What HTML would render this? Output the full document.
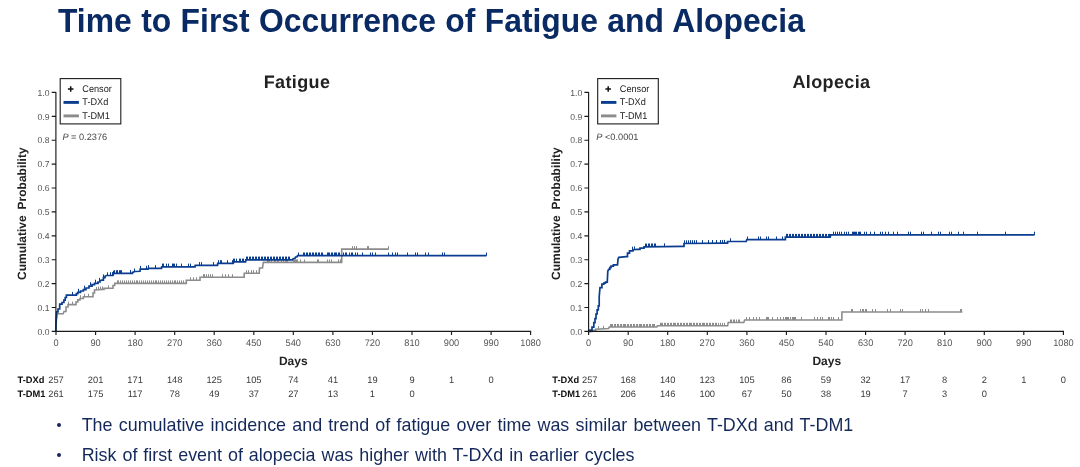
<!DOCTYPE html>
<html lang="en"><head><meta charset="utf-8"><title>Time to First Occurrence of Fatigue and Alopecia</title>
<style>
html,body{margin:0;padding:0;background:#fff;}
body{width:1080px;height:467px;overflow:hidden;position:relative;font-family:"Liberation Sans", Arial, sans-serif;}
svg{position:absolute;left:0;top:0;}
text{font-family:"Liberation Sans", Arial, sans-serif;text-rendering:geometricPrecision;}
.tk{font-size:8.6px;fill:#555;}
.tx{font-size:9.5px;fill:#555;}
.axl{font-size:12px;font-weight:bold;fill:#222;word-spacing:2.5px;}
.ct{font-size:18px;font-weight:bold;fill:#222;letter-spacing:0.37px;}
.lg{font-size:9.7px;fill:#222;}
.pv{font-size:9.2px;fill:#444;}
.rl{font-size:9.3px;font-weight:bold;fill:#111;}
.rv{font-size:9.3px;fill:#3a3a3a;}
h1{position:absolute;left:58px;top:0.8px;margin:0;font-size:33.1px;line-height:40px;font-weight:bold;word-spacing:0.62px;transform:scaleX(0.962);transform-origin:0 0;color:#0a2a63;white-space:nowrap;letter-spacing:0;}
ul{position:absolute;left:0;top:0;margin:0;padding:0;list-style:none;}
li{position:absolute;left:81.7px;white-space:nowrap;font-size:17.9px;line-height:24px;word-spacing:1.25px;color:#14295a;}
li:before{content:"";position:absolute;left:-25.2px;top:10.1px;width:4.2px;height:4.2px;border-radius:50%;background:#14295a;}
</style></head><body>
<h1>Time to First Occurrence of Fatigue and Alopecia</h1>
<svg width="1080" height="467" viewBox="0 0 1080 467">
<path d="M55.8 331.4 L56.4 320 L57.3 313.8 L63.2 313.8 L64 311.5 L66 311.5 L66 307 L68 307 L68 304.6 L74.3 304.6 L76 304.6 L76 302 L77.8 302 L77.8 299.9 L80 299.9 L80 298.5 L83.4 298.5 L83.4 296.8 L91.7 296.8 L93 296.8 L93 293 L94.5 293 L94.5 290 L102.8 289.4 L104 289.4 L104 288.4 L111.2 288.2 L113 288.2 L113 285.5 L114.7 285.5 L114.7 283.4 L186.3 283.4 L186.3 280.2 L200 280.2 L200 277.2 L244.2 277.2 L244.2 273.2 L259.2 273.2 L259.5 268 L262.5 268 L263.3 262.4 L341.7 262.4 L341.7 249.1 L388.9 249.1" fill="none" stroke="#8c8c8c" stroke-width="1.6" stroke-linejoin="miter"/>
<path d="M68.5 304.6v-3M72.5 304.6v-3M80.5 298.2v-3M84.5 296.8v-3M88.5 296.8v-3M96.5 289.9v-3M98.5 289.7v-3M100.5 289.6v-3M102.5 289.4v-3M108.5 288.3v-3M117.5 283.4v-3M118.5 283.4v-3M120.5 283.4v-3M122.5 283.4v-3M124.5 283.4v-3M126.5 283.4v-3M128.5 283.4v-3M130.5 283.4v-3M132.5 283.4v-3M134.5 283.4v-3M136.5 283.4v-3M137.5 283.4v-3M139.5 283.4v-3M141.5 283.4v-3M143.5 283.4v-3M145.5 283.4v-3M147.5 283.4v-3M149.5 283.4v-3M151.5 283.4v-3M153.5 283.4v-3M155.5 283.4v-3M156.5 283.4v-3M158.5 283.4v-3M160.5 283.4v-3M162.5 283.4v-3M164.5 283.4v-3M166.5 283.4v-3M168.5 283.4v-3M170.5 283.4v-3M172.5 283.4v-3M174.5 283.4v-3M175.5 283.4v-3M177.5 283.4v-3M179.5 283.4v-3M181.5 283.4v-3M183.5 283.4v-3M190.5 280.2v-3M193.5 280.2v-3M196.5 280.2v-3M203.5 277.2v-3M204.5 277.2v-3M206.5 277.2v-3M208.5 277.2v-3M210.5 277.2v-3M212.5 277.2v-3M222.5 277.2v-3M225.5 277.2v-3M228.5 277.2v-3M232.5 277.2v-3M246.5 273.2v-3M248.5 273.2v-3M251.5 273.2v-3M253.5 273.2v-3M256.5 273.2v-3M267.5 262.4v-3M268.5 262.4v-3M269.5 262.4v-3M271.5 262.4v-3M274.5 262.4v-3M275.5 262.4v-3M277.5 262.4v-3M278.5 262.4v-3M281.5 262.4v-3M283.5 262.4v-3M285.5 262.4v-3M286.5 262.4v-3M287.5 262.4v-3M293.5 262.4v-3M294.5 262.4v-3M295.5 262.4v-3M296.5 262.4v-3M297.5 262.4v-3M300.5 262.4v-3M304.5 262.4v-3M317.5 262.4v-3M318.5 262.4v-3M327.5 262.4v-3M329.5 262.4v-3M331.5 262.4v-3M338.5 262.4v-3M340.5 262.4v-3M352.5 249.1v-3M354.5 249.1v-3M356.5 249.1v-3M367.5 249.1v-3M368.5 249.1v-3M388.5 249.1v-3" fill="none" stroke="#8c8c8c" stroke-width="1" />
<path d="M55.8 331.4 L56.2 319 L56.7 311.8 L58 311.8 L58 309 L59.7 309 L59.7 304.2 L62 304.2 L62 302.5 L63.9 302.5 L63.9 300.2 L65.2 300.2 L65.2 297.5 L66.4 297.5 L66.4 295.2 L70 295.2 L75 295.1 L76.4 295.1 L76.4 293.6 L77.8 293.6 L77.8 292.4 L80.5 292.4 L80.5 291 L83.4 291 L83.4 289.6 L86 289.6 L86 288 L89 288 L89 286.2 L92 286.2 L92 284.7 L94.5 284.7 L94.5 283.3 L98 283.3 L98 282 L100 282 L100 280.8 L101.5 280.2 L103.4 280.2 L103.4 277.7 L105 277.7 L105 276.3 L106.5 275.5 L113 275.3 L113.7 273.4 L130 273.4 L132.5 273.4 L132.5 272.4 L135 271.5 L140 271.3 L140.2 269.1 L148 269.1 L148.2 268.3 L161.5 268.3 L161.7 266.8 L195 266.8 L195.2 265.3 L217.5 265.3 L217.7 263.4 L233.3 263.4 L233.5 261.8 L245.6 261.8 L245.8 259.8 L292.5 259.8 L293.3 258.5 L295 258.5 L295.5 257 L297 257 L297.5 255.7 L486.5 255.7" fill="none" stroke="#0a3d8f" stroke-width="1.7" stroke-linejoin="miter"/>
<path d="M72.5 295.1v-3.2M78.5 292v-3.2M84.5 288.9v-3.2M90.5 285.4v-3.2M95.5 282.9v-3.2M99.5 281.1v-3.2M103.5 277.6v-3.2M107.5 275.5v-3.2M110.5 275.4v-3.2M112.5 275.3v-3.2M113.5 273.9v-3.2M114.5 273.4v-3.2M116.5 273.4v-3.2M117.5 273.4v-3.2M119.5 273.4v-3.2M120.5 273.4v-3.2M121.5 273.4v-3.2M130.5 273.2v-3.2M134.5 271.7v-3.2M140.5 269.1v-3.2M146.5 269.1v-3.2M148.5 268.3v-3.2M155.5 268.3v-3.2M162.5 266.8v-3.2M163.5 266.8v-3.2M166.5 266.8v-3.2M168.5 266.8v-3.2M172.5 266.8v-3.2M173.5 266.8v-3.2M174.5 266.8v-3.2M176.5 266.8v-3.2M181.5 266.8v-3.2M188.5 266.8v-3.2M190.5 266.8v-3.2M199.5 265.3v-3.2M201.5 265.3v-3.2M213.5 265.3v-3.2M218.5 263.4v-3.2M220.5 263.4v-3.2M221.5 263.4v-3.2M227.5 263.4v-3.2M232.5 263.4v-3.2M233.5 261.8v-3.2M234.5 261.8v-3.2M236.5 261.8v-3.2M239.5 261.8v-3.2M240.5 261.8v-3.2M242.5 261.8v-3.2M243.5 261.8v-3.2M246.5 259.8v-3.2M247.5 259.8v-3.2M249.5 259.8v-3.2M250.5 259.8v-3.2M252.5 259.8v-3.2M253.5 259.8v-3.2M255.5 259.8v-3.2M256.5 259.8v-3.2M258.5 259.8v-3.2M259.5 259.8v-3.2M261.5 259.8v-3.2M262.5 259.8v-3.2M264.5 259.8v-3.2M265.5 259.8v-3.2M267.5 259.8v-3.2M268.5 259.8v-3.2M270.5 259.8v-3.2M271.5 259.8v-3.2M273.5 259.8v-3.2M274.5 259.8v-3.2M276.5 259.8v-3.2M277.5 259.8v-3.2M279.5 259.8v-3.2M280.5 259.8v-3.2M282.5 259.8v-3.2M283.5 259.8v-3.2M285.5 259.8v-3.2M286.5 259.8v-3.2M288.5 259.8v-3.2M289.5 259.8v-3.2M298.5 255.7v-3.2M303.5 255.7v-3.2M304.5 255.7v-3.2M306.5 255.7v-3.2M307.5 255.7v-3.2M309.5 255.7v-3.2M310.5 255.7v-3.2M312.5 255.7v-3.2M313.5 255.7v-3.2M315.5 255.7v-3.2M316.5 255.7v-3.2M318.5 255.7v-3.2M319.5 255.7v-3.2M321.5 255.7v-3.2M322.5 255.7v-3.2M327.5 255.7v-3.2M328.5 255.7v-3.2M329.5 255.7v-3.2M331.5 255.7v-3.2M332.5 255.7v-3.2M334.5 255.7v-3.2M335.5 255.7v-3.2M336.5 255.7v-3.2M338.5 255.7v-3.2M339.5 255.7v-3.2M343.5 255.7v-3.2M345.5 255.7v-3.2M346.5 255.7v-3.2M349.5 255.7v-3.2M351.5 255.7v-3.2M352.5 255.7v-3.2M355.5 255.7v-3.2M357.5 255.7v-3.2M362.5 255.7v-3.2M370.5 255.7v-3.2M372.5 255.7v-3.2M375.5 255.7v-3.2M388.5 255.7v-3.2M392.5 255.7v-3.2M395.5 255.7v-3.2M397.5 255.7v-3.2M407.5 255.7v-3.2M415.5 255.7v-3.2M417.5 255.7v-3.2M425.5 255.7v-3.2M428.5 255.7v-3.2M442.5 255.7v-3.2M444.5 255.7v-3.2M486.5 255.7v-3.2" fill="none" stroke="#0a3d8f" stroke-width="1" />
<path d="M55.9 91.9V332.1M55.2 331.4H531.2M55.9 331.4h-4.2M55.9 307.5h-4.2M55.9 283.6h-4.2M55.9 259.7h-4.2M55.9 235.8h-4.2M55.9 211.9h-4.2M55.9 188h-4.2M55.9 164.1h-4.2M55.9 140.2h-4.2M55.9 116.3h-4.2M55.9 92.4h-4.2M56 331.4v3.6M95.6 331.4v3.6M135.1 331.4v3.6M174.7 331.4v3.6M214.2 331.4v3.6M253.8 331.4v3.6M293.3 331.4v3.6M332.9 331.4v3.6M372.4 331.4v3.6M412 331.4v3.6M451.5 331.4v3.6M491.1 331.4v3.6M530.6 331.4v3.6" fill="none" stroke="#1a1a1a" stroke-width="1.15"/>
<text x="49.5" y="334.6" text-anchor="end" class="tk">0.0</text>
<text x="49.5" y="310.7" text-anchor="end" class="tk">0.1</text>
<text x="49.5" y="286.8" text-anchor="end" class="tk">0.2</text>
<text x="49.5" y="262.9" text-anchor="end" class="tk">0.3</text>
<text x="49.5" y="239" text-anchor="end" class="tk">0.4</text>
<text x="49.5" y="215.1" text-anchor="end" class="tk">0.5</text>
<text x="49.5" y="191.2" text-anchor="end" class="tk">0.6</text>
<text x="49.5" y="167.3" text-anchor="end" class="tk">0.7</text>
<text x="49.5" y="143.4" text-anchor="end" class="tk">0.8</text>
<text x="49.5" y="119.5" text-anchor="end" class="tk">0.9</text>
<text x="49.5" y="95.6" text-anchor="end" class="tk">1.0</text>
<text transform="translate(56 345.7) scale(0.97 1)" text-anchor="middle" class="tx">0</text>
<text transform="translate(95.6 345.7) scale(0.97 1)" text-anchor="middle" class="tx">90</text>
<text transform="translate(135.1 345.7) scale(0.97 1)" text-anchor="middle" class="tx">180</text>
<text transform="translate(174.7 345.7) scale(0.97 1)" text-anchor="middle" class="tx">270</text>
<text transform="translate(214.2 345.7) scale(0.97 1)" text-anchor="middle" class="tx">360</text>
<text transform="translate(253.8 345.7) scale(0.97 1)" text-anchor="middle" class="tx">450</text>
<text transform="translate(293.3 345.7) scale(0.97 1)" text-anchor="middle" class="tx">540</text>
<text transform="translate(332.9 345.7) scale(0.97 1)" text-anchor="middle" class="tx">630</text>
<text transform="translate(372.4 345.7) scale(0.97 1)" text-anchor="middle" class="tx">720</text>
<text transform="translate(412 345.7) scale(0.97 1)" text-anchor="middle" class="tx">810</text>
<text transform="translate(451.5 345.7) scale(0.97 1)" text-anchor="middle" class="tx">900</text>
<text transform="translate(491.1 345.7) scale(0.97 1)" text-anchor="middle" class="tx">990</text>
<text transform="translate(530.6 345.7) scale(0.97 1)" text-anchor="middle" class="tx">1080</text>
<text x="293.3" y="364.9" text-anchor="middle" class="axl">Days</text>
<text transform="translate(26.4 213.7) rotate(-90)" text-anchor="middle" class="axl">Cumulative Probability</text>
<text x="297" y="87.5" text-anchor="middle" class="ct">Fatigue</text>
<rect x="60.2" y="78.6" width="60.6" height="45.3" fill="#fff" stroke="#1c1c1c" stroke-width="1.1"/>
<path d="M67.9 89h5.6M70.7 86.2v5.6" stroke="#111" stroke-width="1.5" fill="none"/>
<path d="M63.5 102.4h15.4" stroke="#0a3d8f" stroke-width="2.9" fill="none"/>
<path d="M63.5 115.9h15.4" stroke="#8c8c8c" stroke-width="2.9" fill="none"/>
<text transform="translate(82.3 92.3) scale(0.945 1)" class="lg">Censor</text>
<text transform="translate(82.3 105) scale(0.945 1)" class="lg">T-DXd</text>
<text transform="translate(82.3 118.8) scale(0.945 1)" class="lg">T-DM1</text>
<text x="62.4" y="139.6" class="pv"><tspan font-style="italic">P</tspan> = 0.2376</text>
<text x="17.6" y="383.4" class="rl">T-DXd</text>
<text x="56" y="383.4" text-anchor="middle" class="rv">257</text>
<text x="95.6" y="383.4" text-anchor="middle" class="rv">201</text>
<text x="135.1" y="383.4" text-anchor="middle" class="rv">171</text>
<text x="174.7" y="383.4" text-anchor="middle" class="rv">148</text>
<text x="214.2" y="383.4" text-anchor="middle" class="rv">125</text>
<text x="253.8" y="383.4" text-anchor="middle" class="rv">105</text>
<text x="293.3" y="383.4" text-anchor="middle" class="rv">74</text>
<text x="332.9" y="383.4" text-anchor="middle" class="rv">41</text>
<text x="372.4" y="383.4" text-anchor="middle" class="rv">19</text>
<text x="412" y="383.4" text-anchor="middle" class="rv">9</text>
<text x="451.5" y="383.4" text-anchor="middle" class="rv">1</text>
<text x="491.1" y="383.4" text-anchor="middle" class="rv">0</text>
<text x="17.6" y="396.7" class="rl">T-DM1</text>
<text x="56" y="396.7" text-anchor="middle" class="rv">261</text>
<text x="95.6" y="396.7" text-anchor="middle" class="rv">175</text>
<text x="135.1" y="396.7" text-anchor="middle" class="rv">117</text>
<text x="174.7" y="396.7" text-anchor="middle" class="rv">78</text>
<text x="214.2" y="396.7" text-anchor="middle" class="rv">49</text>
<text x="253.8" y="396.7" text-anchor="middle" class="rv">37</text>
<text x="293.3" y="396.7" text-anchor="middle" class="rv">27</text>
<text x="332.9" y="396.7" text-anchor="middle" class="rv">13</text>
<text x="372.4" y="396.7" text-anchor="middle" class="rv">1</text>
<text x="412" y="396.7" text-anchor="middle" class="rv">0</text>
<path d="M588.6 331.4 L592 331.4 L592 330.4 L595.7 330.4 L595.7 329.2 L608.6 328.6 L609.2 327 L656.8 327 L657.5 325.8 L727.6 325.8 L728.2 322.5 L743.8 322.5 L744.6 320 L841.9 320 L841.9 312 L962.4 312" fill="none" stroke="#8c8c8c" stroke-width="1.6" stroke-linejoin="miter"/>
<path d="M598.5 329.1v-3M603.5 328.8v-3M610.5 327v-3M611.5 327v-3M612.5 327v-3M614.5 327v-3M615.5 327v-3M617.5 327v-3M618.5 327v-3M620.5 327v-3M621.5 327v-3M623.5 327v-3M624.5 327v-3M625.5 327v-3M627.5 327v-3M628.5 327v-3M630.5 327v-3M631.5 327v-3M633.5 327v-3M634.5 327v-3M636.5 327v-3M637.5 327v-3M639.5 327v-3M640.5 327v-3M641.5 327v-3M643.5 327v-3M644.5 327v-3M646.5 327v-3M647.5 327v-3M649.5 327v-3M650.5 327v-3M652.5 327v-3M653.5 327v-3M654.5 327v-3M660.5 325.8v-3M661.5 325.8v-3M662.5 325.8v-3M664.5 325.8v-3M665.5 325.8v-3M667.5 325.8v-3M668.5 325.8v-3M670.5 325.8v-3M671.5 325.8v-3M673.5 325.8v-3M674.5 325.8v-3M675.5 325.8v-3M677.5 325.8v-3M678.5 325.8v-3M680.5 325.8v-3M681.5 325.8v-3M683.5 325.8v-3M684.5 325.8v-3M686.5 325.8v-3M687.5 325.8v-3M689.5 325.8v-3M690.5 325.8v-3M691.5 325.8v-3M693.5 325.8v-3M694.5 325.8v-3M696.5 325.8v-3M697.5 325.8v-3M699.5 325.8v-3M700.5 325.8v-3M702.5 325.8v-3M703.5 325.8v-3M704.5 325.8v-3M706.5 325.8v-3M707.5 325.8v-3M709.5 325.8v-3M710.5 325.8v-3M712.5 325.8v-3M713.5 325.8v-3M715.5 325.8v-3M716.5 325.8v-3M718.5 325.8v-3M720.5 325.8v-3M722.5 325.8v-3M724.5 325.8v-3M730.5 322.5v-3M731.5 322.5v-3M733.5 322.5v-3M734.5 322.5v-3M736.5 322.5v-3M738.5 322.5v-3M739.5 322.5v-3M746.5 320v-3M749.5 320v-3M753.5 320v-3M756.5 320v-3M759.5 320v-3M766.5 320v-3M767.5 320v-3M768.5 320v-3M772.5 320v-3M777.5 320v-3M780.5 320v-3M783.5 320v-3M785.5 320v-3M786.5 320v-3M787.5 320v-3M788.5 320v-3M790.5 320v-3M792.5 320v-3M793.5 320v-3M794.5 320v-3M795.5 320v-3M801.5 320v-3M814.5 320v-3M817.5 320v-3M820.5 320v-3M822.5 320v-3M828.5 320v-3M829.5 320v-3M831.5 320v-3M833.5 320v-3M838.5 320v-3M851.5 312v-3M852.5 312v-3M860.5 312v-3M862.5 312v-3M863.5 312v-3M865.5 312v-3M866.5 312v-3M872.5 312v-3M875.5 312v-3M887.5 312v-3M890.5 312v-3M900.5 312v-3M902.5 312v-3M920.5 312v-3M922.5 312v-3M925.5 312v-3M928.5 312v-3M960.5 312v-3M961.5 312v-3" fill="none" stroke="#8c8c8c" stroke-width="1" />
<path d="M588.6 331.4 L590 331.4 L590 330.1 L592 330.1 L592 327.1 L593.8 327.1 L593.8 322.6 L595 322.6 L595 318.6 L596 318.6 L596 314 L597.1 314 L597.1 309.9 L598.3 309.9 L598.3 305.8 L599.2 305.8 L599.2 296.6 L600 287.6 L601.9 287.6 L601.9 284.2 L603.8 284.2 L603.8 283.1 L605.5 283.1 L605.5 282.1 L607.3 282.1 L607.3 281 L607.8 271.1 L608.6 269.3 L609.8 269.3 L609.8 267.7 L611 267.7 L611 266.1 L613.4 266.1 L613.4 264.8 L617.5 264.8 L618 259.1 L618.9 257.4 L626.3 256.7 L627.5 256.7 L627.5 253.1 L629.5 253.1 L629.5 250.9 L633 250.9 L633 249.7 L637.5 249.3 L640 249.3 L640 248.1 L644 248.1 L644 246.8 L682.5 246.3 L684 246.3 L684 243.5 L726 243.1 L727.6 243.1 L727.6 241.5 L746.2 241.5 L746.8 239.7 L783.8 239.7 L785.4 239.7 L785.4 237.1 L830.2 237.1 L830.8 234.9 L1034.5 234.9" fill="none" stroke="#0a3d8f" stroke-width="1.7" stroke-linejoin="miter"/>
<path d="M632.5 249.9v-3.2M634.5 249.6v-3.2M645.5 246.8v-3.2M646.5 246.8v-3.2M648.5 246.7v-3.2M649.5 246.7v-3.2M651.5 246.7v-3.2M652.5 246.7v-3.2M654.5 246.7v-3.2M655.5 246.7v-3.2M664.5 246.5v-3.2M684.5 243.5v-3.2M686.5 243.5v-3.2M688.5 243.5v-3.2M690.5 243.4v-3.2M692.5 243.4v-3.2M694.5 243.4v-3.2M696.5 243.4v-3.2M702.5 243.3v-3.2M708.5 243.3v-3.2M712.5 243.2v-3.2M716.5 243.2v-3.2M720.5 243.2v-3.2M722.5 243.1v-3.2M724.5 243.1v-3.2M730.5 241.5v-3.2M747.5 239.7v-3.2M758.5 239.7v-3.2M760.5 239.7v-3.2M766.5 239.7v-3.2M768.5 239.7v-3.2M776.5 239.7v-3.2M782.5 239.7v-3.2M786.5 237.1v-3.2M787.5 237.1v-3.2M789.5 237.1v-3.2M790.5 237.1v-3.2M792.5 237.1v-3.2M793.5 237.1v-3.2M795.5 237.1v-3.2M796.5 237.1v-3.2M798.5 237.1v-3.2M799.5 237.1v-3.2M801.5 237.1v-3.2M802.5 237.1v-3.2M804.5 237.1v-3.2M805.5 237.1v-3.2M807.5 237.1v-3.2M808.5 237.1v-3.2M810.5 237.1v-3.2M811.5 237.1v-3.2M813.5 237.1v-3.2M814.5 237.1v-3.2M816.5 237.1v-3.2M817.5 237.1v-3.2M819.5 237.1v-3.2M820.5 237.1v-3.2M822.5 237.1v-3.2M823.5 237.1v-3.2M825.5 237.1v-3.2M826.5 237.1v-3.2M828.5 237.1v-3.2M829.5 237.1v-3.2M833.5 234.9v-3.2M835.5 234.9v-3.2M837.5 234.9v-3.2M839.5 234.9v-3.2M841.5 234.9v-3.2M844.5 234.9v-3.2M846.5 234.9v-3.2M848.5 234.9v-3.2M852.5 234.9v-3.2M853.5 234.9v-3.2M854.5 234.9v-3.2M855.5 234.9v-3.2M856.5 234.9v-3.2M858.5 234.9v-3.2M859.5 234.9v-3.2M860.5 234.9v-3.2M864.5 234.9v-3.2M866.5 234.9v-3.2M870.5 234.9v-3.2M874.5 234.9v-3.2M880.5 234.9v-3.2M882.5 234.9v-3.2M885.5 234.9v-3.2M888.5 234.9v-3.2M893.5 234.9v-3.2M897.5 234.9v-3.2M908.5 234.9v-3.2M910.5 234.9v-3.2M921.5 234.9v-3.2M923.5 234.9v-3.2M931.5 234.9v-3.2M938.5 234.9v-3.2M940.5 234.9v-3.2M949.5 234.9v-3.2M951.5 234.9v-3.2M958.5 234.9v-3.2M963.5 234.9v-3.2M977.5 234.9v-3.2M1005.5 234.9v-3.2M1034.5 234.9v-3.2" fill="none" stroke="#0a3d8f" stroke-width="1" />
<path d="M588.6 91.9V332.1M587.9 331.4H1064M588.6 331.4h-4.2M588.6 307.5h-4.2M588.6 283.6h-4.2M588.6 259.7h-4.2M588.6 235.8h-4.2M588.6 211.9h-4.2M588.6 188h-4.2M588.6 164.1h-4.2M588.6 140.2h-4.2M588.6 116.3h-4.2M588.6 92.4h-4.2M588.6 331.4v3.6M628.2 331.4v3.6M667.7 331.4v3.6M707.3 331.4v3.6M746.9 331.4v3.6M786.4 331.4v3.6M826 331.4v3.6M865.6 331.4v3.6M905.1 331.4v3.6M944.7 331.4v3.6M984.3 331.4v3.6M1023.8 331.4v3.6M1063.4 331.4v3.6" fill="none" stroke="#1a1a1a" stroke-width="1.15"/>
<text x="582.2" y="334.6" text-anchor="end" class="tk">0.0</text>
<text x="582.2" y="310.7" text-anchor="end" class="tk">0.1</text>
<text x="582.2" y="286.8" text-anchor="end" class="tk">0.2</text>
<text x="582.2" y="262.9" text-anchor="end" class="tk">0.3</text>
<text x="582.2" y="239" text-anchor="end" class="tk">0.4</text>
<text x="582.2" y="215.1" text-anchor="end" class="tk">0.5</text>
<text x="582.2" y="191.2" text-anchor="end" class="tk">0.6</text>
<text x="582.2" y="167.3" text-anchor="end" class="tk">0.7</text>
<text x="582.2" y="143.4" text-anchor="end" class="tk">0.8</text>
<text x="582.2" y="119.5" text-anchor="end" class="tk">0.9</text>
<text x="582.2" y="95.6" text-anchor="end" class="tk">1.0</text>
<text transform="translate(588.6 345.7) scale(0.97 1)" text-anchor="middle" class="tx">0</text>
<text transform="translate(628.2 345.7) scale(0.97 1)" text-anchor="middle" class="tx">90</text>
<text transform="translate(667.7 345.7) scale(0.97 1)" text-anchor="middle" class="tx">180</text>
<text transform="translate(707.3 345.7) scale(0.97 1)" text-anchor="middle" class="tx">270</text>
<text transform="translate(746.9 345.7) scale(0.97 1)" text-anchor="middle" class="tx">360</text>
<text transform="translate(786.4 345.7) scale(0.97 1)" text-anchor="middle" class="tx">450</text>
<text transform="translate(826 345.7) scale(0.97 1)" text-anchor="middle" class="tx">540</text>
<text transform="translate(865.6 345.7) scale(0.97 1)" text-anchor="middle" class="tx">630</text>
<text transform="translate(905.1 345.7) scale(0.97 1)" text-anchor="middle" class="tx">720</text>
<text transform="translate(944.7 345.7) scale(0.97 1)" text-anchor="middle" class="tx">810</text>
<text transform="translate(984.3 345.7) scale(0.97 1)" text-anchor="middle" class="tx">900</text>
<text transform="translate(1023.8 345.7) scale(0.97 1)" text-anchor="middle" class="tx">990</text>
<text transform="translate(1063.4 345.7) scale(0.97 1)" text-anchor="middle" class="tx">1080</text>
<text x="826.8" y="364.9" text-anchor="middle" class="axl">Days</text>
<text transform="translate(559.7 213.7) rotate(-90)" text-anchor="middle" class="axl">Cumulative Probability</text>
<text x="831.5" y="87.5" text-anchor="middle" class="ct">Alopecia</text>
<rect x="597.7" y="78.6" width="60.6" height="45.3" fill="#fff" stroke="#1c1c1c" stroke-width="1.1"/>
<path d="M605.4 89h5.6M608.2 86.2v5.6" stroke="#111" stroke-width="1.5" fill="none"/>
<path d="M601 102.4h15.4" stroke="#0a3d8f" stroke-width="2.9" fill="none"/>
<path d="M601 115.9h15.4" stroke="#8c8c8c" stroke-width="2.9" fill="none"/>
<text transform="translate(619.8 92.3) scale(0.945 1)" class="lg">Censor</text>
<text transform="translate(619.8 105) scale(0.945 1)" class="lg">T-DXd</text>
<text transform="translate(619.8 118.8) scale(0.945 1)" class="lg">T-DM1</text>
<text x="596.3" y="139.6" class="pv"><tspan font-style="italic">P</tspan> &lt;0.0001</text>
<text x="552.3" y="383.4" class="rl">T-DXd</text>
<text x="589.8" y="383.4" text-anchor="middle" class="rv">257</text>
<text x="628.2" y="383.4" text-anchor="middle" class="rv">168</text>
<text x="667.7" y="383.4" text-anchor="middle" class="rv">140</text>
<text x="707.3" y="383.4" text-anchor="middle" class="rv">123</text>
<text x="746.9" y="383.4" text-anchor="middle" class="rv">105</text>
<text x="786.4" y="383.4" text-anchor="middle" class="rv">86</text>
<text x="826" y="383.4" text-anchor="middle" class="rv">59</text>
<text x="865.6" y="383.4" text-anchor="middle" class="rv">32</text>
<text x="905.1" y="383.4" text-anchor="middle" class="rv">17</text>
<text x="944.7" y="383.4" text-anchor="middle" class="rv">8</text>
<text x="984.3" y="383.4" text-anchor="middle" class="rv">2</text>
<text x="1023.8" y="383.4" text-anchor="middle" class="rv">1</text>
<text x="1063.4" y="383.4" text-anchor="middle" class="rv">0</text>
<text x="552.3" y="396.7" class="rl">T-DM1</text>
<text x="589.8" y="396.7" text-anchor="middle" class="rv">261</text>
<text x="628.2" y="396.7" text-anchor="middle" class="rv">206</text>
<text x="667.7" y="396.7" text-anchor="middle" class="rv">146</text>
<text x="707.3" y="396.7" text-anchor="middle" class="rv">100</text>
<text x="746.9" y="396.7" text-anchor="middle" class="rv">67</text>
<text x="786.4" y="396.7" text-anchor="middle" class="rv">50</text>
<text x="826" y="396.7" text-anchor="middle" class="rv">38</text>
<text x="865.6" y="396.7" text-anchor="middle" class="rv">19</text>
<text x="905.1" y="396.7" text-anchor="middle" class="rv">7</text>
<text x="944.7" y="396.7" text-anchor="middle" class="rv">3</text>
<text x="984.3" y="396.7" text-anchor="middle" class="rv">0</text>
</svg>
<ul>
<li style="top:413px">The cumulative incidence and trend of fatigue over time was similar between T-DXd and T-DM1</li>
<li style="top:442.7px;word-spacing:1.02px">Risk of first event of alopecia was higher with T-DXd in earlier cycles</li>
</ul>
</body></html>
